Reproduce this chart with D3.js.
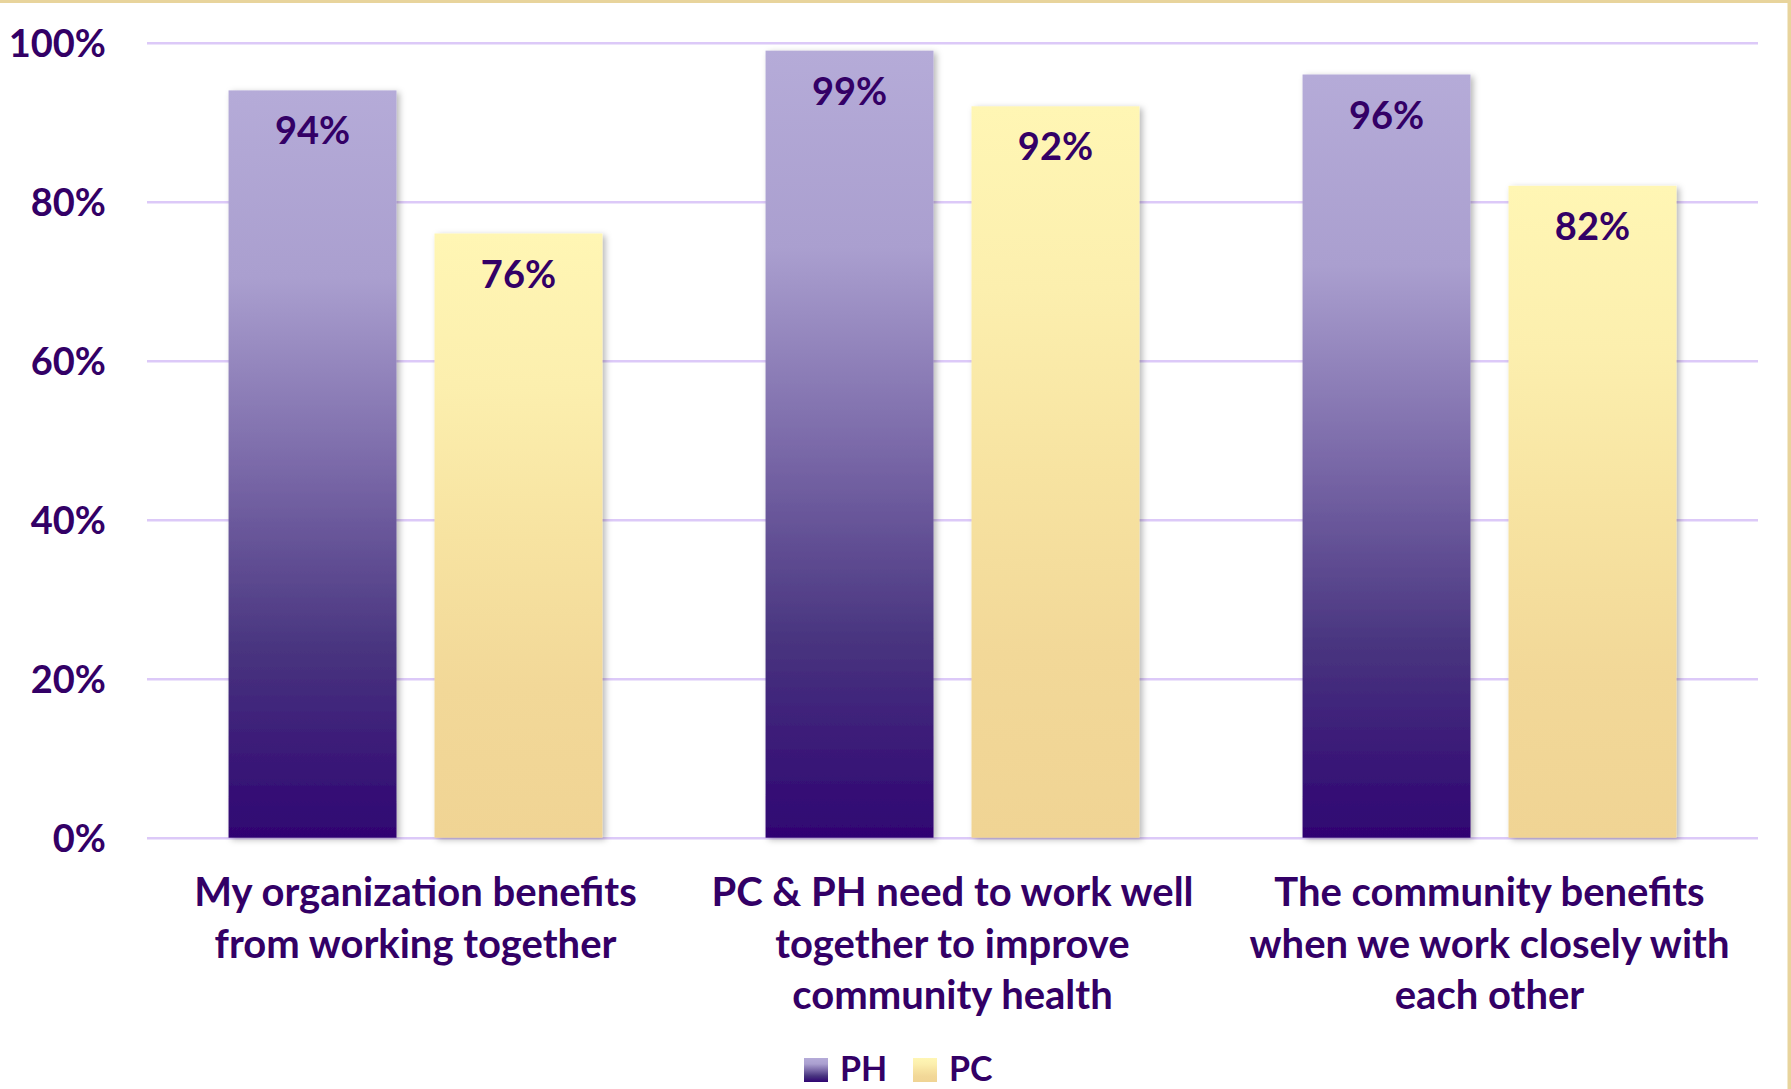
<!DOCTYPE html>
<html>
<head>
<meta charset="utf-8">
<script src="https://cdn.jsdelivr.net/npm/d3@7"></script>
<style>
  html, body { margin: 0; padding: 0; background: #ffffff; }
  svg { display: block; }
  text { font-family: Lato, "Open Sans", sans-serif; font-weight: 700; fill: #330066; }
</style>
</head>
<body>
<svg id="chart" width="1791" height="1089"></svg>
<script>
// Survey agreement, by respondent group
const categories = [
  ["My organization benefits", "from working together"],
  ["PC & PH need to work well", "together to improve", "community health"],
  ["The community benefits", "when we work closely with", "each other"]
];
const seriesNames = ["PH", "PC"];
const phValues = [0.94, 0.99, 0.96];
const pcValues = [0.76, 0.92, 0.82];
const yTicks = [0, 0.2, 0.4, 0.6, 0.8, 1.0];

const W = 1791, H = 1089;
const plot = { left: 147, right: 1758, top: 42.7, bottom: 837.7 };

const svg = d3.select("#chart");
const defs = svg.append("defs");

// Vertical gradients for each series
const gradients = {
  PH: ["#b5abd8", "#aa9fcf", "#7b6aa9", "#48347f", "#2f0472"],
  PC: ["#fff6b4", "#fcefae", "#f7e3a1", "#f2d898", "#f0d494"]
};
Object.entries(gradients).forEach(([name, stops]) => {
  const g = defs.append("linearGradient")
    .attr("id", "grad-" + name)
    .attr("x1", 0).attr("y1", 0).attr("x2", 0).attr("y2", 1);
  stops.forEach((c, i) => g.append("stop")
    .attr("offset", (i / (stops.length - 1) * 100) + "%")
    .attr("stop-color", c));
});

// Soft shadow behind bars
const f = defs.append("filter").attr("id", "shadow")
  .attr("x", "-10%").attr("y", "-5%").attr("width", "130%").attr("height", "115%");
f.append("feDropShadow").attr("dx", 3).attr("dy", 2).attr("stdDeviation", 3)
  .attr("flood-color", "#000").attr("flood-opacity", 0.28);

// Frame edges
svg.append("rect").attr("x", 0).attr("y", 0).attr("width", W).attr("height", 3).attr("fill", "#e8d49c");
svg.append("rect").attr("x", W - 3.5).attr("y", 0).attr("width", 3.5).attr("height", H).attr("fill", "#e8d49c");

const y = d3.scaleLinear().domain([0, 1]).range([plot.bottom, plot.top]);
const x0 = d3.scaleBand().domain(d3.range(categories.length)).range([plot.left, plot.right]).padding(0);
const x1 = d3.scaleBand().domain(seriesNames).range([0, x0.bandwidth()])
  .paddingInner(0.1845).paddingOuter(0.396);

// Gridlines
const yAxis = d3.axisLeft(y).tickValues(yTicks).tickSize(-(plot.right - plot.left))
  .tickFormat(d3.format(".0%")).tickPadding(41);
const gAxis = svg.append("g").attr("transform", `translate(${plot.left},0)`).call(yAxis);
gAxis.select(".domain").remove();
gAxis.selectAll(".tick line").attr("stroke", "#dcc9f8").attr("stroke-width", 2.5);
gAxis.selectAll(".tick text")
  .attr("font-size", 38).attr("dy", "0.36em").attr("fill", "#330066")
  .style("font-family", "Lato, sans-serif").style("font-weight", 700);

// Bars
const rows = d3.range(categories.length).map(i => ({
  i, values: [{ s: "PH", v: phValues[i] }, { s: "PC", v: pcValues[i] }]
}));
const groups = svg.append("g").selectAll("g").data(rows).join("g")
  .attr("transform", d => `translate(${x0(d.i)},0)`);

groups.selectAll("rect").data(d => d.values).join("rect")
  .attr("x", d => x1(d.s))
  .attr("y", d => y(d.v))
  .attr("width", x1.bandwidth())
  .attr("height", d => y(0) - y(d.v))
  .attr("fill", d => `url(#grad-${d.s})`)
  .attr("filter", "url(#shadow)");

// Value labels inside bars
groups.selectAll("text.val").data(d => d.values).join("text")
  .attr("class", "val")
  .attr("x", d => x1(d.s) + x1.bandwidth() / 2)
  .attr("y", d => y(d.v) + 54)
  .attr("text-anchor", "middle")
  .attr("font-size", 38)
  .text(d => d3.format(".0%")(d.v));

// Category labels
const catG = svg.append("g");
categories.forEach((lines, i) => {
  const t = catG.append("text")
    .attr("x", x0(i) + x0.bandwidth() / 2)
    .attr("y", 906)
    .attr("text-anchor", "middle")
    .attr("font-size", 40);
  lines.forEach((ln, j) => t.append("tspan")
    .attr("x", x0(i) + x0.bandwidth() / 2)
    .attr("dy", j === 0 ? 0 : 51.5)
    .text(ln));
});

// Legend
const legend = svg.append("g");
const legendItems = [
  { s: "PH", sx: 804, tx: 840 },
  { s: "PC", sx: 913, tx: 949 }
];
legendItems.forEach(d => {
  legend.append("rect").attr("x", d.sx).attr("y", 1058).attr("width", 24).attr("height", 24)
    .attr("fill", `url(#grad-${d.s})`);
  legend.append("text").attr("x", d.tx).attr("y", 1081).attr("font-size", 34).text(d.s);
});
</script>
</body>
</html>
